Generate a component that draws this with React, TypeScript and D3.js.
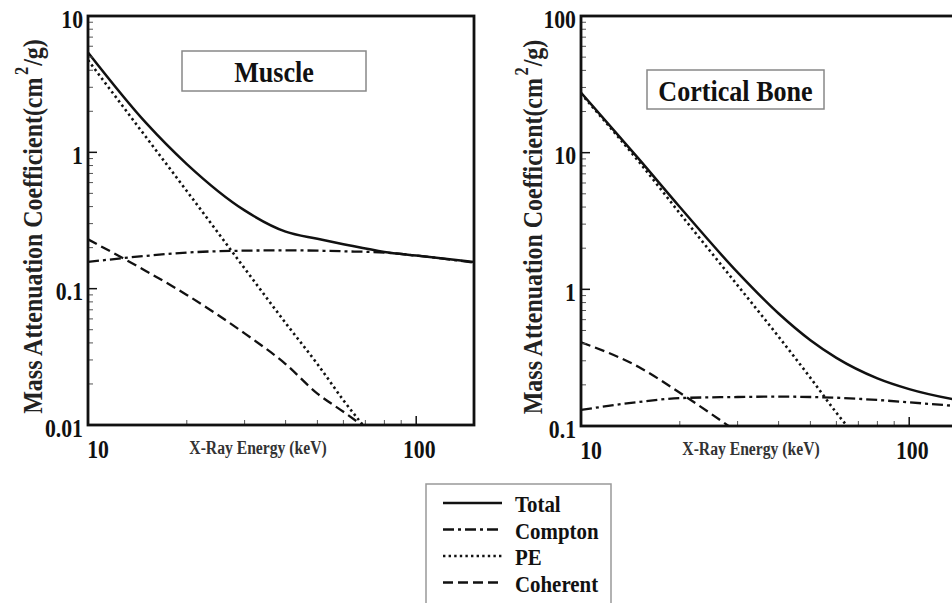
import React from 'react'
import * as d3 from 'd3'

// energies (keV) shared by all curves
const energy = [10, 15, 20, 30, 40, 50, 60, 80, 100, 150]

// Muscle, cm^2/g
const muscleTotal = [5.4, 1.65, 0.82, 0.375, 0.262, 0.232, 0.212, 0.186, 0.175, 0.157]
const muscleCompton = [0.157, 0.174, 0.184, 0.19, 0.191, 0.19, 0.188, 0.184, 0.175, 0.155]
const musclePE = [4.75, 1.3, 0.52, 0.141, 0.056, 0.028, 0.0152, 0.0064, 0.0032, 0.0009]
const muscleCoherent = [0.23, 0.135, 0.09, 0.047, 0.028, 0.017, 0.0125, 0.0075, 0.0048, 0.0021]

// Cortical bone, cm^2/g
const boneTotal = [27.5, 9.0, 4.0, 1.33, 0.665, 0.424, 0.315, 0.223, 0.186, 0.15]
const boneCompton = [0.131, 0.15, 0.16, 0.163, 0.164, 0.163, 0.161, 0.155, 0.149, 0.138]
const bonePE = [27, 8.6, 3.6, 1.07, 0.45, 0.225, 0.125, 0.055, 0.028, 0.008]
const boneCoherent = [0.41, 0.27, 0.175, 0.09, 0.055, 0.036, 0.026, 0.015, 0.01, 0.0045]

const legendNames = ['Total', 'Compton', 'PE', 'Coherent']
const dashes = ['none', '11,4,3,4', '2.4,3.2', '10,5']
const widths = [2.5, 2.3, 2.6, 2.3]

const serif = "'Liberation Serif', 'DejaVu Serif', serif"
const SX = 0.87 // the source lettering is narrow and tall

function Txt(props: {
  x: number, y: number, size: number, anchor?: string, rotate?: number,
  fill?: string, children: React.ReactNode, baseline?: string
}) {
  const rot = props.rotate ? ` rotate(${props.rotate})` : ''
  return (
    <text transform={`translate(${props.x},${props.y})${rot} scale(${SX},1)`}
      textAnchor={props.anchor || 'start'} dominantBaseline={props.baseline || 'auto'}
      fontFamily={serif} fontWeight="bold" fontSize={props.size} fill={props.fill || '#111'}>
      {props.children}
    </text>
  )
}

type PanelProps = {
  id: string
  left: number
  top: number
  width: number
  height: number
  yDomain: [number, number]
  yTicks: number[]
  series: number[][]
  title: string
  titleBox: [number, number, number, number]
  yTitleX: number
}

function Panel(p: PanelProps) {
  const x = d3.scaleLog().domain([10, 150]).range([p.left, p.left + p.width])
  const y = d3.scaleLog().domain(p.yDomain).range([p.top + p.height, p.top])
  const line = d3.line<number>()
    .x((d, i) => x(energy[i]))
    .y(d => y(d))
    .curve(d3.curveMonotoneX)

  // minor ticks on y: 2..9 per decade
  const yMinor: number[] = []
  for (let dec = p.yDomain[0]; dec < p.yDomain[1] * 0.99; dec *= 10) {
    for (let k = 2; k <= 9; k++) yMinor.push(dec * k)
  }
  const xMinor = [20, 30, 40, 50, 60, 70, 80, 90]
  const bottom = p.top + p.height

  return (
    <g>
      <defs>
        <clipPath id={p.id}>
          <rect x={p.left} y={p.top} width={p.width} height={p.height} />
        </clipPath>
      </defs>

      {/* curves */}
      <g clipPath={`url(#${p.id})`}>
        {p.series.map((s, i) => (
          <path key={i} d={line(s) || ''} fill="none" stroke="#111"
            strokeWidth={widths[i]} strokeDasharray={dashes[i]} />
        ))}
      </g>

      {/* y ticks */}
      {yMinor.map((v, i) => (
        <line key={'ym' + i} x1={p.left} x2={p.left + 5} y1={y(v)} y2={y(v)}
          stroke="#555" strokeWidth={1} />
      ))}
      {p.yTicks.map(v => (
        <g key={'yt' + v}>
          <line x1={p.left} x2={p.left + 9} y1={y(v)} y2={y(v)} stroke="#111" strokeWidth={1.5} />
          <Txt x={p.left - 5} y={y(v) + 3} size={25} anchor="end" baseline="central">{String(v)}</Txt>
        </g>
      ))}

      {/* x ticks */}
      {xMinor.map(v => (
        <line key={'xm' + v} x1={x(v)} x2={x(v)} y1={bottom} y2={bottom - 5}
          stroke="#555" strokeWidth={1} />
      ))}
      <line x1={x(100)} x2={x(100)} y1={bottom} y2={bottom - 9} stroke="#111" strokeWidth={1.5} />
      <Txt x={x(10) + 10} y={bottom + 33} size={25} anchor="middle">10</Txt>
      <Txt x={x(100) + 3} y={bottom + 33} size={25} anchor="middle">100</Txt>
      <Txt x={p.left + 170} y={bottom + 29} size={18} anchor="middle" fill="#333">X-Ray Energy (keV)</Txt>

      {/* frame */}
      <rect x={p.left} y={p.top} width={p.width} height={p.height} fill="none"
        stroke="#111" strokeWidth={2.8} />

      {/* title box */}
      <rect x={p.titleBox[0]} y={p.titleBox[1]} width={p.titleBox[2]} height={p.titleBox[3]}
        fill="white" stroke="#888" strokeWidth={1.5} />
      <Txt x={p.titleBox[0] + p.titleBox[2] / 2} y={p.titleBox[1] + p.titleBox[3] / 2 + 1}
        size={30} anchor="middle" baseline="central">{p.title}</Txt>

      {/* y title */}
      <Txt x={p.yTitleX} y={p.top + p.height / 2 + 6} size={27.5} anchor="middle" rotate={-90} fill="#222">
        Mass Attenuation Coefficient(cm
        <tspan dy={-14} dx={3} fontSize={19}>2</tspan>
        <tspan dy={14} dx={1}>/g)</tspan>
      </Txt>
    </g>
  )
}

export default function App() {
  const muscle = [muscleTotal, muscleCompton, musclePE, muscleCoherent]
  const bone = [boneTotal, boneCompton, bonePE, boneCoherent]

  const lx = 443
  const ly = 503
  const step = 26.5

  return (
    <svg width={952} height={603} style={{ position: 'absolute', left: 0, top: 0, background: 'white' }}>
      <Panel id="clipMuscle" left={88} top={16} width={386} height={409}
        yDomain={[0.01, 10]} yTicks={[0.01, 0.1, 1, 10]} series={muscle}
        title="Muscle" titleBox={[182, 51, 184, 40]} yTitleX={42} />
      <Panel id="clipBone" left={581} top={16} width={386} height={410}
        yDomain={[0.1, 100]} yTicks={[0.1, 1, 10, 100]} series={bone}
        title="Cortical Bone" titleBox={[647, 70, 177, 39]} yTitleX={542} />

      {/* legend */}
      <rect x={426} y={484} width={185} height={130} fill="white" stroke="#999" strokeWidth={1.5} />
      {legendNames.map((n, i) => (
        <g key={n}>
          <line x1={lx} x2={lx + 59} y1={ly + i * step} y2={ly + i * step} stroke="#111"
            strokeWidth={widths[i]} strokeDasharray={dashes[i]} />
          <Txt x={515} y={ly + i * step + 1} size={24} baseline="central">{n}</Txt>
        </g>
      ))}
    </svg>
  )
}
